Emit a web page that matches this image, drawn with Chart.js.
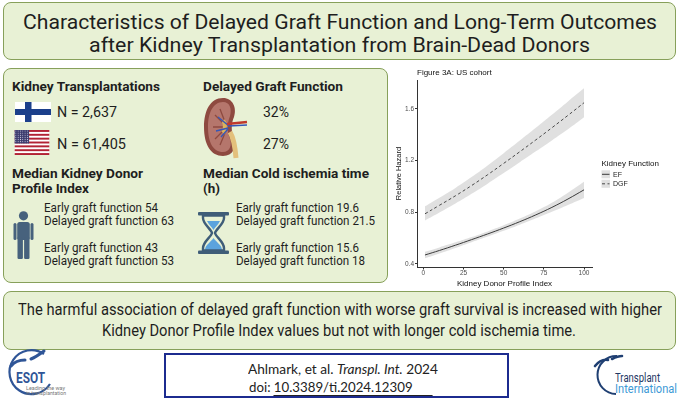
<!DOCTYPE html>
<html>
<head>
<meta charset="utf-8">
<script src="https://cdn.jsdelivr.net/npm/chart.js@4.4.1/dist/chart.umd.min.js"></script>
<style>
  html, body { margin: 0; padding: 0; background: #fff; }
  #page { position: relative; width: 679px; height: 401px; overflow: hidden; font-family: Roboto, "Noto Sans", sans-serif; color: #1e1e1e; }
  .box { position: absolute; box-sizing: border-box; background: #e8f1d5; border: 1.5px solid #87a05a; border-radius: 8px; }
  .t { position: absolute; white-space: nowrap; line-height: 1; transform-origin: 0 50%; }
  .b { font-weight: 700; }
  .cite { font-family: Lato, "Open Sans", sans-serif; color: #222; }
  svg { position: absolute; overflow: visible; }
  #chartWrap { position: absolute; left: 385px; top: 62px; width: 294px; height: 228px; }
</style>
</head>
<body>
<div id="page">
  <!-- title -->
  <div class="box" style="left:3px;top:2px;width:673px;height:58px"></div>
  <div class="t" style="left:22.5px;top:12.2px;font-size:21px" data-w="634">Characteristics of Delayed Graft Function and Long-Term Outcomes</div>
  <div class="t" style="left:89px;top:34.9px;font-size:21px" data-w="501">after Kidney Transplantation from Brain-Dead Donors</div>

  <!-- left panel -->
  <div class="box" style="left:3px;top:68px;width:385px;height:215px"></div>
  <div class="t b" style="left:12px;top:80px;font-size:13px" data-w="148">Kidney Transplantations</div>

  <svg style="left:15px;top:102px" width="36" height="20" viewBox="0 0 36 20">
    <rect width="36" height="20" fill="#fff"/>
    <rect x="10" y="0" width="6.5" height="20" fill="#1b3f8b"/>
    <rect x="0" y="7" width="36" height="6" fill="#1b3f8b"/>
  </svg>
  <div class="t" style="left:57px;top:105px;font-size:14px" data-w="60">N = 2,637</div>

  <svg style="left:14px;top:130px" width="36" height="25" viewBox="0 0 36 26">
    <defs>
      <pattern id="stars" width="2.4" height="2.2" patternUnits="userSpaceOnUse">
        <circle cx="1.2" cy="1.1" r="0.5" fill="#d8d8ea"/>
      </pattern>
    </defs>
    <rect width="36" height="26" fill="#fff"/>
    <g fill="#b22234">
      <rect y="0" width="36" height="2"/><rect y="4" width="36" height="2"/>
      <rect y="8" width="36" height="2"/><rect y="12" width="36" height="2"/>
      <rect y="16" width="36" height="2"/><rect y="20" width="36" height="2"/>
      <rect y="24" width="36" height="2"/>
    </g>
    <rect width="15" height="14" fill="#3c3b6e"/>
    <rect width="15" height="14" fill="url(#stars)"/>
  </svg>
  <div class="t" style="left:57px;top:137px;font-size:14px" data-w="69">N = 61,405</div>

  <div class="t b" style="left:12px;top:167px;font-size:13.5px" data-w="131">Median Kidney Donor</div>
  <div class="t b" style="left:12px;top:182px;font-size:13.5px" data-w="77">Profile Index</div>

  <svg style="left:13px;top:211px" width="21" height="48" viewBox="0 0 21 48">
    <g fill="#47627d">
      <circle cx="10.5" cy="4.8" r="4.6"/>
      <rect x="4.2" y="11" width="12.6" height="18" rx="2.5"/>
      <rect x="0.5" y="12" width="3" height="17" rx="1.5"/>
      <rect x="17.5" y="12" width="3" height="17" rx="1.5"/>
      <rect x="4.5" y="26" width="5.4" height="22" rx="1.2"/>
      <rect x="11.1" y="26" width="5.4" height="22" rx="1.2"/>
    </g>
  </svg>
  <div class="t" style="left:44px;top:202px;font-size:12px" data-w="114">Early graft function 54</div>
  <div class="t" style="left:44px;top:215.4px;font-size:12px" data-w="130">Delayed graft function 63</div>
  <div class="t" style="left:44px;top:242px;font-size:12px" data-w="114">Early graft function 43</div>
  <div class="t" style="left:44px;top:255.4px;font-size:12px" data-w="130">Delayed graft function 53</div>

  <div class="t b" style="left:203px;top:80px;font-size:13px" data-w="140">Delayed Graft Function</div>
  <svg style="left:203px;top:97px" width="44" height="61" viewBox="0 0 44 61">
    <path d="M20 1 C7 1 1 14 1 30 C1 48 8 59 20 59 C30 59 34 50 31 42 C28 36 28 26 31 20 C34 11 30 1 20 1 Z" fill="#8e4a40"/>
    <path d="M20 5 C10 5 5 16 5 30 C5 45 10 55 20 55 C27 55 29 48 27 42 C24 36 24 26 27 19 C29 12 27 5 20 5 Z" fill="#b5766c"/>
    <path d="M12 18 L20 26 M10 30 L21 30 M12 42 L20 34 M17 12 L22 25 M17 48 L22 36" stroke="#8e4a40" stroke-width="1.3" fill="none"/>
    <path d="M20 24 C23 26 22 34 20 36" stroke="#d9b35c" stroke-width="4" fill="none"/>
    <path d="M15 20 L26 29 L44 28 M13 34 L25 31 M18 40 L25 32" stroke="#3557b8" stroke-width="1.3" fill="none"/>
    <path d="M24 27 L44 25" stroke="#c0392b" stroke-width="2.6" fill="none"/>
    <path d="M27 35 C30 40 32 48 33 61" stroke="#e3c07c" stroke-width="5" fill="none"/>
  </svg>
  <div class="t" style="left:263px;top:105px;font-size:14px" data-w="26">32%</div>
  <div class="t" style="left:263px;top:137.4px;font-size:14px" data-w="26">27%</div>

  <div class="t b" style="left:203px;top:167px;font-size:13.5px" data-w="166">Median Cold ischemia time</div>
  <div class="t b" style="left:203px;top:182px;font-size:13.5px" data-w="17">(h)</div>

  <svg style="left:198px;top:212px" width="31" height="42" viewBox="0 0 31 42">
    <path d="M9 9 L22 9 C20 13 17 15 15.5 18 C14 15 11 13 9 9 Z" fill="#5ba3dd"/>
    <path d="M7 38 L24 38 C24 33 18 30 15.5 26 C13 30 7 33 7 38 Z" fill="#5ba3dd"/>
    <path d="M5 3.5 L26 3.5 L26 6 C26 12 18 17 17 21 C18 25 26 30 26 36 L26 38.5 L5 38.5 L5 36 C5 30 13 25 14 21 C13 17 5 12 5 6 Z" stroke="#3f5d78" stroke-width="2.4" fill="none"/>
    <rect x="0" y="0" width="31" height="3.6" rx="1" fill="#3f5d78"/>
    <rect x="0" y="38.4" width="31" height="3.6" rx="1" fill="#3f5d78"/>
  </svg>
  <div class="t" style="left:236px;top:202px;font-size:12px" data-w="123">Early graft function 19.6</div>
  <div class="t" style="left:236px;top:215.4px;font-size:12px" data-w="139">Delayed graft function 21.5</div>
  <div class="t" style="left:236px;top:242px;font-size:12px" data-w="123">Early graft function 15.6</div>
  <div class="t" style="left:236px;top:255.4px;font-size:12px" data-w="129">Delayed graft function 18</div>

  <!-- chart -->
  <div id="chartWrap"><canvas id="hazardChart"></canvas></div>

  <!-- conclusion -->
  <div class="box" style="left:3px;top:291px;width:673px;height:59px"></div>
  <div class="t" style="left:18px;top:302.2px;font-size:16px" data-w="644">The harmful association of delayed graft function with worse graft survival is increased with higher</div>
  <div class="t" style="left:102px;top:323.2px;font-size:16px" data-w="474">Kidney Donor Profile Index values but not with longer cold ischemia time.</div>

  <!-- citation -->
  <div style="position:absolute;left:164px;top:353px;width:345px;height:45px;box-sizing:border-box;border:2px solid #1c2b8f;background:#fff"></div>
  <div class="t cite" style="left:248px;top:362.6px;font-size:13px" data-w="190">Ahlmark, et al. <i>Transpl. Int.</i> 2024</div>
  <div class="t cite" style="left:249px;top:380.6px;font-size:13px" data-w="184">doi: <span style="border-bottom:1px solid #222;padding-right:20px">10.3389/ti.2024.12309</span></div>

  <!-- logos -->
  <svg style="left:0;top:348px" width="75" height="53" viewBox="0 348 75 53">
    <path d="M44 354 A22 22 0 1 0 50 384" stroke="#2f5597" stroke-width="2.2" fill="none"/>
    <path d="M11 366 C15 361 20 360 25 360" stroke="#2f5597" stroke-width="3" fill="none" stroke-linecap="round"/>
    <path d="M31 359 C36 357 40 354 44 351" stroke="#2f5597" stroke-width="3" fill="none" stroke-linecap="round"/>
    <text x="16" y="383" font-family="Roboto, sans-serif" font-weight="700" font-size="14" fill="#2f5597" textLength="29" lengthAdjust="spacingAndGlyphs">ESOT</text>
    <text x="26" y="390" font-family="Roboto, sans-serif" font-size="4.6" fill="#777" textLength="39" lengthAdjust="spacingAndGlyphs">Leading the way</text>
    <text x="26" y="395" font-family="Roboto, sans-serif" font-size="4.6" fill="#777" textLength="40" lengthAdjust="spacingAndGlyphs">in transplantation</text>
  </svg>
  <svg style="left:585px;top:348px" width="94" height="53" viewBox="585 348 94 53">
    <path d="M617 356 A19 19 0 0 0 616 394" stroke="#1f3f72" stroke-width="2" fill="none"/>
    <path d="M595 366 C599 361 603 359 608 360" stroke="#1f3f72" stroke-width="2.6" fill="none" stroke-linecap="round"/>
    <path d="M612 359 C616 357 619 356 622 356" stroke="#1f3f72" stroke-width="2.6" fill="none" stroke-linecap="round"/>
    <text x="615" y="382" font-family="Roboto, sans-serif" font-size="12" fill="#1f3864" textLength="45" lengthAdjust="spacingAndGlyphs">Transplant</text>
    <text x="615" y="393" font-family="Roboto, sans-serif" font-size="12" fill="#3d9ad6" textLength="62" lengthAdjust="spacingAndGlyphs">International</text>
  </svg>
</div>

<script>
// Figure 3A (US cohort): relative hazard vs KDPI
const kdpi = [1, 10, 20, 30, 40, 50, 60, 70, 80, 90, 100];

const efHazard = [0.468, 0.503, 0.544, 0.587, 0.631, 0.677, 0.726, 0.779, 0.837, 0.902, 0.973];
const efLower  = [0.443, 0.480, 0.523, 0.567, 0.611, 0.656, 0.703, 0.752, 0.803, 0.855, 0.910];
const efUpper  = [0.493, 0.527, 0.566, 0.607, 0.651, 0.698, 0.750, 0.807, 0.872, 0.950, 1.035];

const dgfHazard = [0.787, 0.853, 0.927, 1.006, 1.090, 1.178, 1.268, 1.360, 1.454, 1.550, 1.648];
const dgfLower  = [0.735, 0.797, 0.867, 0.942, 1.021, 1.103, 1.187, 1.271, 1.356, 1.442, 1.535];
const dgfUpper  = [0.845, 0.912, 0.988, 1.072, 1.162, 1.257, 1.355, 1.454, 1.555, 1.658, 1.760];

const xTicks = [0, 25, 50, 75, 100];
const yTicks = [0.4, 0.8, 1.2, 1.6];
const seriesNames = ["EF", "DGF"];

const ribbon = "rgba(160,160,160,0.33)";
const toPoints = (arr) => kdpi.map((x, i) => ({ x, y: arr[i] }));

// fit each text block to the width it has in the reference
function fitTexts() {
  document.querySelectorAll("[data-w]").forEach((el) => {
    el.style.transform = "none";
    const w = el.getBoundingClientRect().width;
    if (w > 0) el.style.transform = "scaleX(" + (el.dataset.w / w) + ")";
  });
}
fitTexts();
if (document.fonts) document.fonts.ready.then(fitTexts);

// ggplot-style figure caption and legend, drawn beside the plot
const sidePlugin = {
  id: "sideText",
  afterDraw(chart) {
    const { ctx, chartArea } = chart;
    ctx.save();
    ctx.fillStyle = "#111";
    ctx.textBaseline = "middle";
    ctx.font = "8px 'Liberation Sans', Arial, sans-serif";
    ctx.fillText("Figure 3A: US cohort", chartArea.left, 10.5);

    const lx = chartArea.right + 9.5;
    ctx.fillText("Kidney Function", lx, 101.5);
    ctx.font = "7px 'Liberation Sans', Arial, sans-serif";
    [0, 1].forEach((i) => {
      const ds = chart.data.datasets[i];
      const cy = 112.3 + i * 9.5;
      ctx.fillStyle = ribbon;
      ctx.fillRect(lx, cy - 4, 8.5, 8);
      ctx.strokeStyle = ds.borderColor;
      ctx.lineWidth = 1;
      ctx.setLineDash(ds.borderDash || []);
      ctx.beginPath();
      ctx.moveTo(lx + 0.5, cy);
      ctx.lineTo(lx + 8, cy);
      ctx.stroke();
      ctx.setLineDash([]);
      ctx.fillStyle = "#222";
      ctx.fillText(seriesNames[i], lx + 11.5, cy + 0.5);
    });
    ctx.restore();
  }
};

Chart.defaults.font.family = "'Liberation Sans', Arial, sans-serif";
Chart.defaults.color = "#4d4d4d";

const lineBase = { pointRadius: 0, borderWidth: 1, tension: 0.4, fill: false };
const bandBase = { pointRadius: 0, borderWidth: 0, tension: 0.4, borderColor: "rgba(0,0,0,0)", backgroundColor: ribbon, order: 1 };

new Chart(document.getElementById("hazardChart"), {
  type: "line",
  data: {
    datasets: [
      { ...lineBase, label: seriesNames[0], data: toPoints(efHazard), borderColor: "#3b3b3b", order: 0 },
      { ...lineBase, label: seriesNames[1], data: toPoints(dgfHazard), borderColor: "#4a4a4a", borderDash: [3, 2.5], order: 0 },
      { ...bandBase, label: "EF upper", data: toPoints(efUpper), fill: "+1" },
      { ...bandBase, label: "EF lower", data: toPoints(efLower), fill: false },
      { ...bandBase, label: "DGF upper", data: toPoints(dgfUpper), fill: "+1" },
      { ...bandBase, label: "DGF lower", data: toPoints(dgfLower), fill: false }
    ]
  },
  options: {
    responsive: true,
    maintainAspectRatio: false,
    animation: false,
    layout: { padding: { top: 18, right: 87, left: 0, bottom: 0 } },
    plugins: { legend: { display: false }, tooltip: { enabled: false } },
    scales: {
      x: {
        type: "linear",
        min: -3.95,
        max: 104.95,
        afterBuildTicks: (s) => { s.ticks = xTicks.map((v) => ({ value: v })); },
        afterFit: (s) => { s.height = 23; },
        ticks: { font: { size: 6.5 }, color: "#4d4d4d", padding: 0, maxRotation: 0 },
        grid: { drawOnChartArea: false, drawTicks: true, tickLength: 2.5, color: "#333", tickColor: "#333" },
        border: { display: true, color: "#333", width: 1 },
        title: { display: true, text: "Kidney Donor Profile Index", font: { size: 8 }, color: "#111", padding: { top: 0, bottom: 1 } }
      },
      y: {
        min: 0.375,
        max: 1.824,
        afterBuildTicks: (s) => { s.ticks = yTicks.map((v) => ({ value: v })); },
        afterFit: (s) => { s.width = 32; },
        ticks: { font: { size: 6.5 }, color: "#4d4d4d", padding: 1, callback: (v) => v.toFixed(1) },
        grid: { drawOnChartArea: false, drawTicks: true, tickLength: 2, color: "#333", tickColor: "#333" },
        border: { display: true, color: "#333", width: 1 },
        title: { display: true, text: "Relative Hazard", font: { size: 7.5 }, color: "#111", padding: { top: 9, bottom: 0 } }
      }
    }
  },
  plugins: [sidePlugin]
});
</script>
</body>
</html>
